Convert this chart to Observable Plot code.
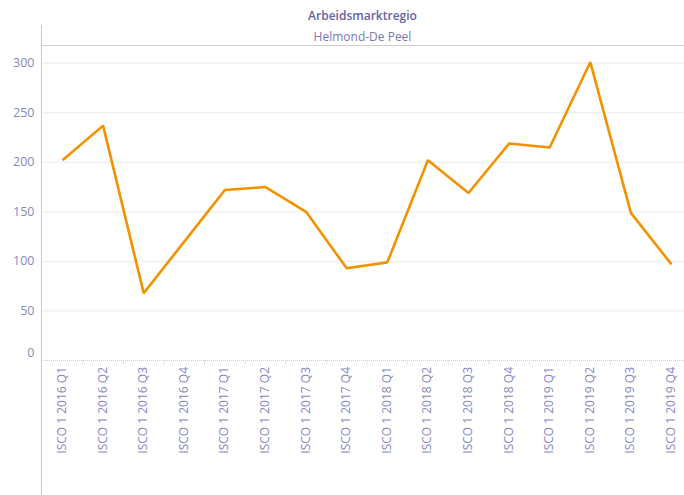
<!DOCTYPE html>
<html>
<head>
<meta charset="utf-8">
<script src="https://cdn.jsdelivr.net/npm/d3@7"></script>
<script src="https://cdn.jsdelivr.net/npm/@observablehq/plot@0.6"></script>
<style>
  html, body { margin: 0; padding: 0; background: #fff; }
  #wrap { position: relative; width: 684px; height: 495px; overflow: hidden; font-family: "Open Sans", sans-serif; }
  #vline { position: absolute; left: 41px; top: 25px; width: 1px; height: 470px; background: #c8c8c8; }
  #hline { position: absolute; left: 41px; top: 45px; width: 643px; height: 1px; background: #cfcfcf; }
  #title { position: absolute; left: 41px; width: 643px; top: 7px; text-align: center; font-size: 12px; font-weight: 600; color: #6563a3; }
  #subtitle { position: absolute; left: 41px; width: 643px; top: 28px; text-align: center; font-size: 12px; color: #7a78b5; }
  #chart { position: absolute; left: 0; top: 45px; }
</style>
</head>
<body>
<div id="wrap">
  <div id="title">Arbeidsmarktregio</div>
  <div id="subtitle">Helmond-De Peel</div>
  <div id="chart"></div>
  <div id="vline"></div>
  <div id="hline"></div>
</div>
<script>
const categories = [
  "ISCO 1 2016 Q1", "ISCO 1 2016 Q2", "ISCO 1 2016 Q3", "ISCO 1 2016 Q4",
  "ISCO 1 2017 Q1", "ISCO 1 2017 Q2", "ISCO 1 2017 Q3", "ISCO 1 2017 Q4",
  "ISCO 1 2018 Q1", "ISCO 1 2018 Q2", "ISCO 1 2018 Q3", "ISCO 1 2018 Q4",
  "ISCO 1 2019 Q1", "ISCO 1 2019 Q2", "ISCO 1 2019 Q3", "ISCO 1 2019 Q4"
];
const values = [202, 237, 68, 120, 172, 175, 150, 93, 99, 202, 169, 219, 215, 301, 149, 97];
const yTicks = [0, 50, 100, 150, 200, 250, 300];

const data = categories.map((c, i) => ({cat: c, value: values[i]}));
const textColor = "#8886c2";

const chart = Plot.plot({
  width: 684,
  height: 450,
  marginLeft: 41,
  marginRight: 0,
  marginTop: 17.7,
  marginBottom: 135,
  style: {fontFamily: "Open Sans, sans-serif", background: "transparent", overflow: "visible"},
  x: {type: "point", domain: categories, padding: 0, round: false, insetLeft: 21, insetRight: 13, axis: null},
  y: {domain: [0, 300], axis: null},
  marks: [
    Plot.gridY(yTicks.filter(d => d > 0), {stroke: "#ececec", strokeOpacity: 1}),
    Plot.ruleY([0], {stroke: "#cfcfcf", strokeDasharray: "1,1"}),
    Plot.ruleX(categories.slice(1), {x: d => d, y1: 0, y2: -5, dx: -20.3, stroke: "#e2e2e2"}),
    Plot.axisY(yTicks.filter(d => d > 0), {tickSize: 0, tickPadding: 7, fontSize: 12.5, fill: textColor, label: null}),
    Plot.axisY([0], {tickSize: 0, tickPadding: 7, fontSize: 12.5, fill: textColor, label: null, dy: -8}),
    Plot.text(categories, {x: d => d, frameAnchor: "bottom", rotate: -90, textAnchor: "end", dx: 3.5, dy: 6.5, fontSize: 12, fill: textColor}),
    Plot.line(data, {x: "cat", y: "value", stroke: "#f39200", strokeWidth: 2.6, strokeLinejoin: "miter", strokeLinecap: "butt"})
  ]
});
document.getElementById("chart").appendChild(chart);
</script>
</body>
</html>
